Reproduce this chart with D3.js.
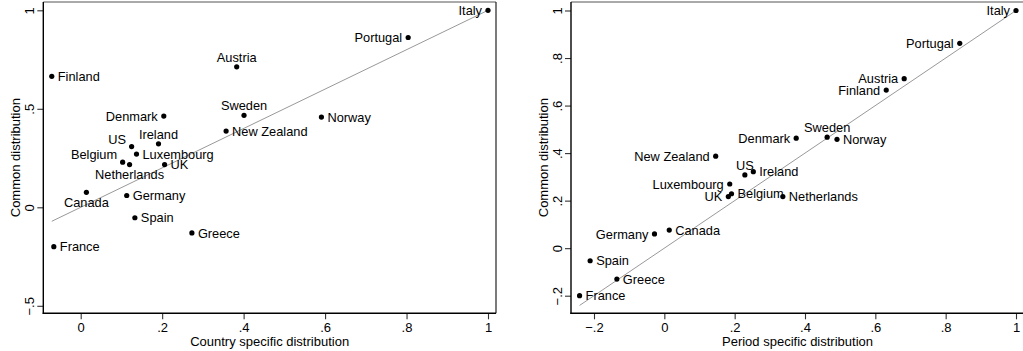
<!DOCTYPE html>
<html>
<head>
<meta charset="utf-8">
<script src="https://cdn.jsdelivr.net/npm/d3@7/dist/d3.min.js"></script>
<style>
  html, body { margin: 0; padding: 0; background: #fff; }
  svg { display: block; font-family: "Liberation Sans", Arial, Helvetica, sans-serif; }
</style>
</head>
<body>
<svg id="chart" width="1023" height="351"></svg>
<script>
// Countries and their estimated distributions
const countries = ["Italy", "Portugal", "Austria", "Finland", "Denmark", "Sweden", "Norway",
  "New Zealand", "US", "Ireland", "Luxembourg", "Belgium", "Netherlands", "UK", "Canada",
  "Germany", "Spain", "Greece", "France"];
const commonDist = [1.0, 0.862, 0.713, 0.665, 0.463, 0.467, 0.458, 0.387, 0.308, 0.322,
  0.27, 0.229, 0.217, 0.217, 0.076, 0.06, -0.053, -0.13, -0.2];
const countrySpecific = [1.0, 0.804, 0.383, -0.071, 0.204, 0.401, 0.591, 0.357, 0.125, 0.191,
  0.137, 0.103, 0.12, 0.206, 0.014, 0.113, 0.133, 0.273, -0.066];
const periodSpecific = [1.0, 0.84, 0.682, 0.631, 0.375, 0.463, 0.491, 0.146, 0.229, 0.253,
  0.186, 0.191, 0.337, 0.182, 0.014, -0.028, -0.211, -0.135, -0.241];

// Axis ticks
const leftYTicks = [-0.5, 0, 0.5, 1];
const leftXTicks = [0, 0.2, 0.4, 0.6, 0.8, 1];
const rightYTicks = [-0.2, 0, 0.2, 0.4, 0.6, 0.8, 1];
const rightXTicks = [-0.2, 0, 0.2, 0.4, 0.6, 0.8, 1];

// Marker label placement (clock positions; default 3 o'clock)
const leftLabelClock = { Italy: 9, Portugal: 9, Austria: 12, Denmark: 9, Sweden: 12,
  Ireland: 12, US: 10, Belgium: 10, Netherlands: 6, Canada: 6 };
const rightLabelClock = { Italy: 9, Portugal: 9, Austria: 9, Finland: 9, Denmark: 9,
  Sweden: 12, "New Zealand": 9, US: 12, Luxembourg: 9, UK: 9, Germany: 9 };

const svg = d3.select("#chart");

function fmt(v) {
  if (v === 0) return "0";
  const a = Math.abs(v);
  const s = a === 1 ? "1" : String(a).replace(/^0/, "");
  return (v < 0 ? "\u2212" : "") + s;
}

function panel(cfg) {
  const g = svg.append("g");
  const x = d3.scaleLinear().domain(cfg.xDomain).range(cfg.xRange);
  const y = d3.scaleLinear().domain(cfg.yDomain).range(cfg.yRange);
  const [fx0, fx1, fy0, fy1] = cfg.frame;

  // plot region outline
  g.append("line").attr("x1", fx0).attr("x2", fx1).attr("y1", fy0).attr("y2", fy0)
    .attr("stroke", "#555").attr("stroke-width", 1);
  g.append("line").attr("x1", fx1).attr("x2", fx1).attr("y1", fy0).attr("y2", fy1)
    .attr("stroke", "#222").attr("stroke-width", 1.2);

  // 45-degree reference line over the x range of the data
  const xe = d3.extent(cfg.xs);
  g.append("line")
    .attr("x1", x(xe[0])).attr("y1", y(xe[0]))
    .attr("x2", x(xe[1])).attr("y2", y(xe[1]))
    .attr("stroke", "#999").attr("stroke-width", 1);

  // y axis
  const ya = g.append("g").attr("transform", `translate(${fx0},0)`)
    .call(d3.axisLeft(y).tickValues(cfg.yTicks).tickFormat(fmt).tickSize(6).tickSizeOuter(0));
  ya.select(".domain").remove();
  ya.selectAll(".tick line").attr("stroke", "#333").attr("stroke-width", 1.1);
  ya.selectAll(".tick text")
    .attr("x", null).attr("dy", null)
    .attr("transform", "translate(-9.5,0) rotate(-90)")
    .attr("text-anchor", "middle")
    .attr("font-size", 13).attr("fill", "#000")
    .style("font-family", "'Liberation Sans', Arial, sans-serif");

  // x axis
  const xa = g.append("g").attr("transform", `translate(0,${fy1})`)
    .call(d3.axisBottom(x).tickValues(cfg.xTicks).tickFormat(fmt).tickSize(6).tickSizeOuter(0));
  xa.select(".domain").remove();
  xa.selectAll(".tick line").attr("stroke", "#333").attr("stroke-width", 1.1);
  xa.selectAll(".tick text")
    .attr("y", 9.5)
    .attr("font-size", 13).attr("fill", "#000")
    .style("font-family", "'Liberation Sans', Arial, sans-serif");

  // axis lines
  g.append("line").attr("x1", fx0).attr("x2", fx0).attr("y1", fy0).attr("y2", fy1 + 0.6)
    .attr("stroke", "#000").attr("stroke-width", 1.4);
  g.append("line").attr("x1", fx0 - 0.6).attr("x2", fx1).attr("y1", fy1).attr("y2", fy1)
    .attr("stroke", "#000").attr("stroke-width", 1.4);

  // axis titles
  g.append("text")
    .attr("x", (fx0 + fx1) / 2).attr("y", 345.5)
    .attr("text-anchor", "middle").attr("font-size", 13).attr("fill", "#000")
    .text(cfg.xTitle);
  g.append("text")
    .attr("transform", `translate(${cfg.yTitleX},${(fy0 + fy1) / 2}) rotate(-90)`)
    .attr("text-anchor", "middle").attr("font-size", 13).attr("fill", "#000")
    .text(cfg.yTitle);

  const pts = countries.map((c, i) => ({ name: c, x: cfg.xs[i], y: commonDist[i] }));

  // markers
  g.selectAll("circle.pt").data(pts).enter().append("circle")
    .attr("class", "pt")
    .attr("cx", d => x(d.x)).attr("cy", d => y(d.y)).attr("r", 2.6)
    .attr("fill", "#000");

  // marker labels
  const place = {
    3: { dx: 6, dy: 0, anchor: "start" },
    9: { dx: -6, dy: 0, anchor: "end" },
    12: { dx: 0, dy: -9.5, anchor: "middle" },
    6: { dx: 0, dy: 10, anchor: "middle" },
    10: { dx: -5.5, dy: -7.5, anchor: "end" }
  };
  g.selectAll("text.lbl").data(pts).enter().append("text")
    .attr("class", "lbl")
    .each(function (d) {
      const p = place[cfg.clock[d.name] || 3];
      d3.select(this)
        .attr("x", x(d.x) + p.dx)
        .attr("y", y(d.y) + p.dy)
        .attr("dy", "0.36em")
        .attr("text-anchor", p.anchor);
    })
    .attr("font-size", 12.8).attr("fill", "#000")
    .text(d => d.name);
}

panel({
  xs: countrySpecific,
  xDomain: [0, 1], xRange: [80.7, 488],
  yDomain: [-0.5, 1], yRange: [305.8, 10.3],
  frame: [43.3, 496, 2, 313.3],
  xTicks: leftXTicks, yTicks: leftYTicks,
  xTitle: "Country specific distribution",
  yTitle: "Common distribution", yTitleX: 19.5,
  clock: leftLabelClock
});

panel({
  xs: periodSpecific,
  xDomain: [-0.2, 1], xRange: [594, 1016],
  yDomain: [-0.2, 1], yRange: [295.7, 10.5],
  frame: [571, 1024, 2, 313.3],
  xTicks: rightXTicks, yTicks: rightYTicks,
  xTitle: "Period specific distribution",
  yTitle: "Common distribution", yTitleX: 547.5,
  clock: rightLabelClock
});
</script>
</body>
</html>
